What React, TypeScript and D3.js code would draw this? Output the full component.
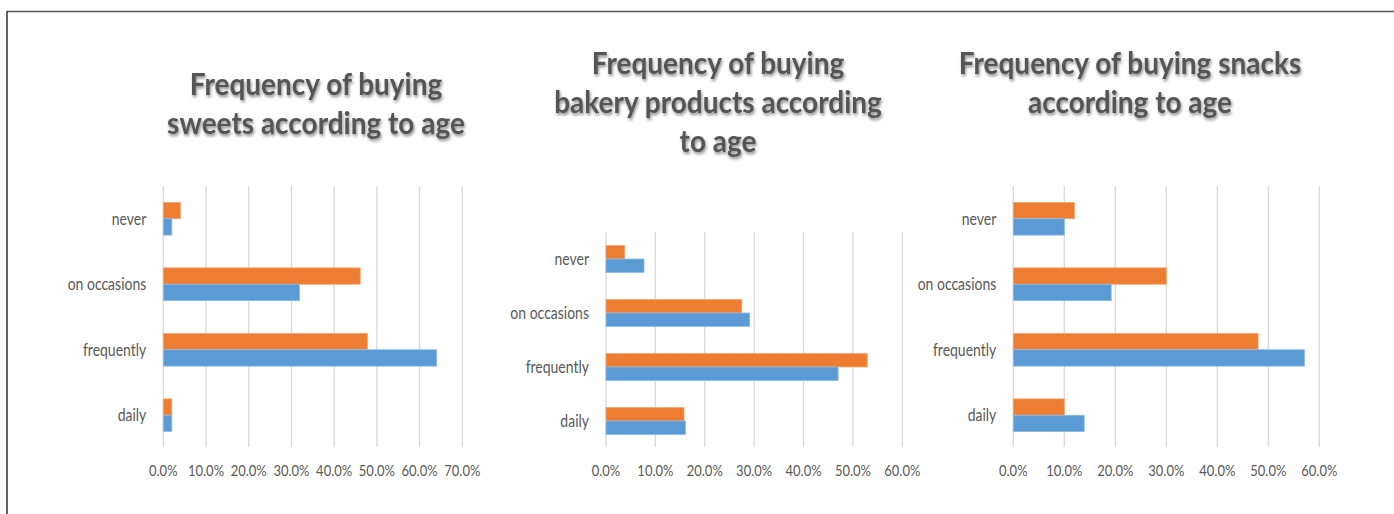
import React from "react";
import * as d3 from "d3";

// ---- data ----
const categories = ["never", "on occasions", "frequently", "daily"];

const sweetsOrange = [0.04, 0.461, 0.478, 0.02];
const sweetsBlue = [0.02, 0.319, 0.64, 0.02];

const bakeryOrange = [0.038, 0.275, 0.529, 0.158];
const bakeryBlue = [0.077, 0.291, 0.47, 0.161];

const snacksOrange = [0.12, 0.30, 0.48, 0.10];
const snacksBlue = [0.10, 0.192, 0.571, 0.139];

const sweetsTitle = ["Frequency of buying", "sweets according to age"];
const bakeryTitle = ["Frequency of buying", "bakery products according", "to age"];
const snacksTitle = ["Frequency of buying snacks", "according to age"];

const sweetsTicks = [0, 0.1, 0.2, 0.3, 0.4, 0.5, 0.6, 0.7];
const bakeryTicks = [0, 0.1, 0.2, 0.3, 0.4, 0.5, 0.6];
const snacksTicks = [0, 0.1, 0.2, 0.3, 0.4, 0.5, 0.6];

const ORANGE = "#ED7D31";
const BLUE = "#5B9BD5";
const GRID = "#D9D9D9";
const TEXT = "#595959";
const FONT = "Lato, 'Noto Sans', sans-serif";

type PanelProps = {
  title: string[];
  titleX: number;
  titleY: number;
  titleStep: number;
  orange: number[];
  blue: number[];
  ticks: number[];
  x0: number;
  x1: number;
  y0: number;
  y1: number;
};

function Panel(p: PanelProps) {
  const maxT = p.ticks[p.ticks.length - 1];
  const x = d3.scaleLinear().domain([0, maxT]).range([p.x0, p.x1]);
  const y = d3
    .scaleBand<string>()
    .domain(categories)
    .range([p.y0, p.y1])
    .paddingInner(0.5)
    .paddingOuter(0.25);
  const sub = d3
    .scaleBand<string>()
    .domain(["orange", "blue"])
    .range([0, y.bandwidth()]);
  const fmt = d3.format(".1%");
  return (
    <g>
      {p.title.map((t, i) => (
        <text
          key={i}
          transform={`translate(${p.titleX},${p.titleY + i * p.titleStep}) scale(1,1.08)`}
          textAnchor="middle"
          fontFamily={FONT}
          fontWeight={700}
          fontSize={28}
          fill="#555555"
          filter="url(#tshadow)"
        >
          {t}
        </text>
      ))}
      {p.ticks.map((t) => (
        <line
          key={"g" + t}
          x1={x(t)}
          x2={x(t)}
          y1={p.y0}
          y2={p.y1 - 1}
          stroke={GRID}
          strokeWidth={1.3}
        />
      ))}
      {categories.map((c, i) => (
        <g key={c}>
          <rect
            x={x(0)}
            y={(y(c) as number) + (sub("orange") as number)}
            width={x(p.orange[i]) - x(0)}
            height={sub.bandwidth()}
            fill={ORANGE}
            stroke="#F4A774"
            strokeWidth={0.8}
          />
          <rect
            x={x(0)}
            y={(y(c) as number) + (sub("blue") as number)}
            width={x(p.blue[i]) - x(0)}
            height={sub.bandwidth()}
            fill={BLUE}
            stroke="#8CBBE6"
            strokeWidth={0.8}
          />
          <text
            transform={`translate(${x(0) - 17},${(y(c) as number) + y.bandwidth() / 2}) scale(1,1.2)`}
            dy="0.35em"
            textAnchor="end"
            fontFamily={FONT}
            fontSize={14}
            fill={TEXT}
          >
            {c}
          </text>
        </g>
      ))}
      {p.ticks.map((t) => (
        <text
          key={"t" + t}
          transform={`translate(${x(t)},476) scale(1,1.2)`}
          textAnchor="middle"
          fontFamily={FONT}
          fontSize={13}
          fill={TEXT}
        >
          {fmt(t)}
        </text>
      ))}
    </g>
  );
}

export default function App() {
  return (
    <svg
      width={1394}
      height={514}
      style={{ position: "absolute", left: 0, top: 0, background: "#fff" }}
    >
      <defs>
        <filter id="tshadow" x="-10%" y="-30%" width="120%" height="160%">
          <feDropShadow dx="1" dy="2" stdDeviation="1.6" floodColor="#000" floodOpacity="0.45" />
        </filter>
      </defs>
      <rect x={0} y={0} width={1394} height={514} fill="#fff" />
      <line x1={7} x2={1394} y1={11.5} y2={11.5} stroke="#555" strokeWidth={1.6} />
      <line x1={7} x2={7} y1={11} y2={514} stroke="#222" strokeWidth={1.4} />
      <Panel
        title={sweetsTitle}
        titleX={316}
        titleY={94.5}
        titleStep={39}
        orange={sweetsOrange}
        blue={sweetsBlue}
        ticks={sweetsTicks}
        x0={163.3}
        x1={462.3}
        y0={186}
        y1={448}
      />
      <Panel
        title={bakeryTitle}
        titleX={718}
        titleY={73.5}
        titleStep={39}
        orange={bakeryOrange}
        blue={bakeryBlue}
        ticks={bakeryTicks}
        x0={606}
        x1={902.3}
        y0={232}
        y1={448}
      />
      <Panel
        title={snacksTitle}
        titleX={1130}
        titleY={73.5}
        titleStep={39}
        orange={snacksOrange}
        blue={snacksBlue}
        ticks={snacksTicks}
        x0={1013.3}
        x1={1319.3}
        y0={186}
        y1={448}
      />
    </svg>
  );
}
